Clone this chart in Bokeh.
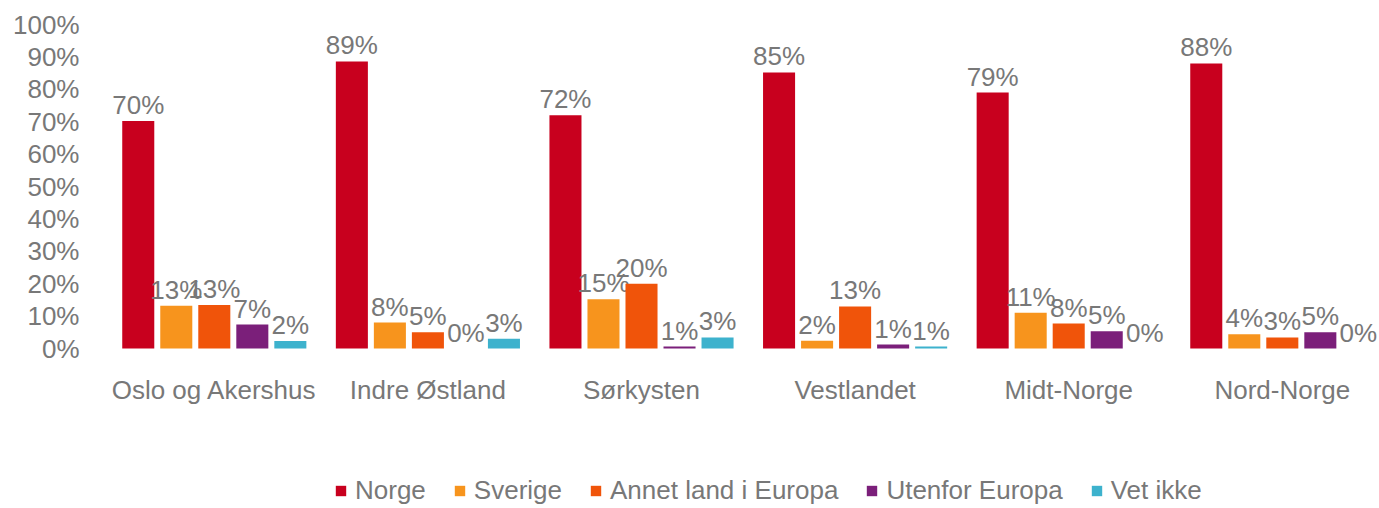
from bokeh.plotting import figure
from bokeh.models import Range1d, FixedTicker, Legend, LegendItem, ColumnDataSource
from bokeh.core.properties import value
from bokeh.embed import file_html
from bokeh.resources import INLINE

categories = ["Oslo og Akershus", "Indre Østland", "Sørkysten", "Vestlandet", "Midt-Norge", "Nord-Norge"]
series_names = ["Norge", "Sverige", "Annet land i Europa", "Utenfor Europa", "Vet ikke"]
norge = [70.2, 88.6, 72.0, 85.2, 79.0, 88.0]
sverige = [13.2, 8.0, 15.2, 2.4, 11.0, 4.4]
annet = [13.4, 5.0, 20.0, 13.0, 7.7, 3.4]
utenfor = [7.4, 0.0, 0.6, 1.2, 5.3, 5.0]
vet_ikke = [2.3, 3.0, 3.4, 0.6, 0.0, 0.0]
y_ticks = [0, 10, 20, 30, 40, 50, 60, 70, 80, 90, 100]

colors = ["#C8001E", "#F7941D", "#F0540A", "#7B1F7A", "#3DB2CD"]
FONT = "Liberation Sans"
GREY = "#787878"

p = figure(frame_width=1272, frame_height=484, output_backend="svg", toolbar_location=None,
           x_range=Range1d(-0.5, 5.455), y_range=Range1d(-49.38, 100),
           min_border_left=107, min_border_right=0, min_border_top=24, min_border_bottom=0)
p.outline_line_color = None
p.grid.visible = False
p.background_fill_color = "white"

step = 0.178
bw = 0.15
all_series = [norge, sverige, annet, utenfor, vet_ikke]
items = []
for j, (name, vals, col) in enumerate(zip(series_names, all_series, colors)):
    xs = [i + (j - 2) * step for i in range(len(categories))]
    src = ColumnDataSource(dict(x=xs, top=vals, lab=[f"{round(v)}%" for v in vals]))
    r = p.vbar(x="x", top="top", bottom=0, width=bw, source=src, fill_color=col, line_color=None)
    p.text(x="x", y="top", text="lab", source=src, text_align="center", text_baseline="alphabetic",
           y_offset=-16, text_font=value(FONT), text_font_size="26px", text_color=GREY)
    items.append(LegendItem(label=name, renderers=[r]))

p.yaxis.ticker = FixedTicker(ticks=y_ticks)
p.yaxis.major_label_overrides = {t: f"{t}%" for t in y_ticks}
p.yaxis.axis_line_color = None
p.yaxis.major_tick_line_color = None
p.yaxis.minor_tick_line_color = None
p.yaxis.major_label_standoff = 22
p.yaxis.major_label_text_font = FONT
p.yaxis.major_label_text_font_size = "26px"
p.yaxis.major_label_text_color = GREY

p.xaxis.fixed_location = 0
p.xaxis.ticker = FixedTicker(ticks=list(range(len(categories))))
p.xaxis.major_label_overrides = {i: c for i, c in enumerate(categories)}
p.xaxis.axis_line_color = None
p.xaxis.major_tick_line_color = None
p.xaxis.minor_tick_line_color = None
p.xaxis.major_label_standoff = 20
p.xaxis.major_label_text_font = FONT
p.xaxis.major_label_text_font_size = "26px"
p.xaxis.major_label_text_color = GREY

legend = Legend(items=items, orientation="horizontal", location=(227, 2),
                padding=0, margin=0, spacing=27, label_standoff=8,
                glyph_width=13, glyph_height=13, label_height=26,
                label_text_font=FONT, label_text_font_size="26px", label_text_color=GREY,
                border_line_color=None, background_fill_alpha=0)
p.add_layout(legend, "center")

open("out.html", "w").write(file_html(p, INLINE))
